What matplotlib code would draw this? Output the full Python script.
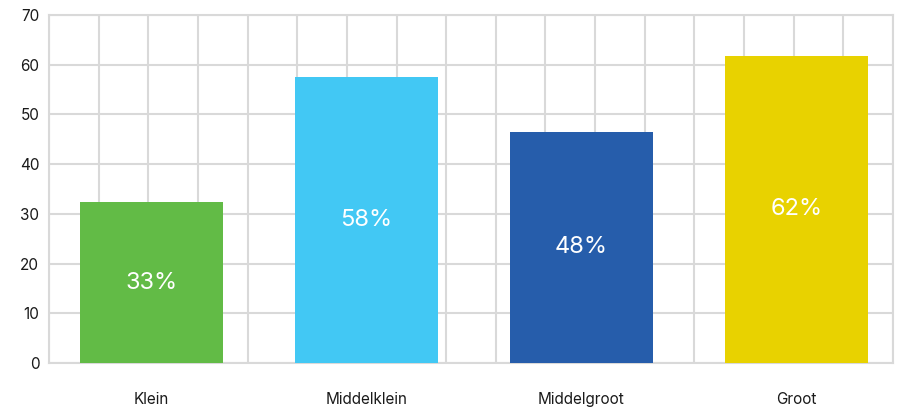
import numpy as np
import matplotlib.pyplot as plt
from matplotlib.ticker import MultipleLocator

plt.rcParams['font.family'] = ['Inter', 'DejaVu Sans']

# data
categories = ["Klein", "Middelklein", "Middelgroot", "Groot"]
values = [32.3, 57.6, 46.5, 61.8]
labels = ["33%", "58%", "48%", "62%"]
colors = ["#62BB46", "#42C8F4", "#265DAB", "#E8D200"]

grid_col = "#D9D9D9"

fig = plt.figure(figsize=(9.01, 4.07), dpi=100)
ax = fig.add_axes([49 / 901, 44 / 407, 844 / 901, 348 / 407])

# x positions in grid-cell units (17 cells across)
x = 2.06 + 4.33 * np.arange(len(categories))
bars = ax.bar(x, values, width=2.88, color=colors, zorder=3)

for b, lab in zip(bars, labels):
    ax.text(b.get_x() + b.get_width() / 2, b.get_height() / 2, lab,
            ha="center", va="center", color="white", fontsize=17, zorder=4)

ax.set_xlim(0, 17)
ax.set_ylim(0, 70)
ax.set_yticks(range(0, 71, 10))
ax.xaxis.set_minor_locator(MultipleLocator(1))
ax.set_xticks(x)
ax.set_xticklabels(categories)

ax.grid(True, which="minor", axis="x", color=grid_col, linewidth=1.5, zorder=0)
ax.grid(True, which="major", axis="y", color=grid_col, linewidth=1.5, zorder=0)
ax.grid(False, which="major", axis="x")

ax.tick_params(axis="both", which="both", length=0, labelsize=11, colors="#1a1a1a")
ax.tick_params(axis="x", pad=21)
ax.tick_params(axis="y", pad=7)

for s in ax.spines.values():
    s.set_color(grid_col)
    s.set_linewidth(1.5)

fig.savefig("out.png", dpi=100)
